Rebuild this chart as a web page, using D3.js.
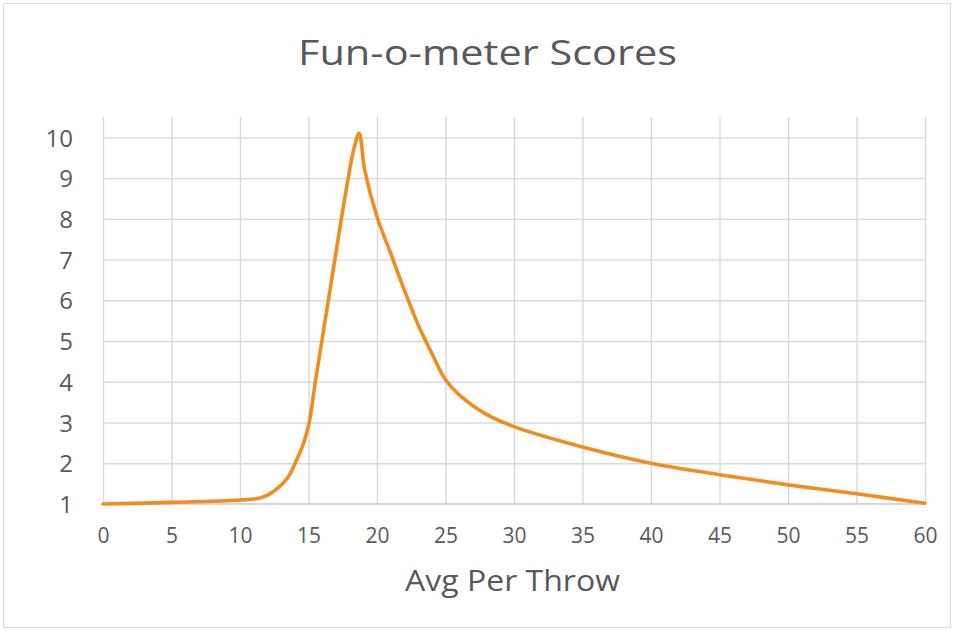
<!DOCTYPE html>
<html>
<head>
<meta charset="utf-8">
<script src="https://cdn.jsdelivr.net/npm/d3@7"></script>
<style>
  html, body { margin: 0; padding: 0; background: #fff; }
  svg { display: block; }
  text { font-family: "Open Sans", "Noto Sans", sans-serif; fill: #595959; }
</style>
</head>
<body>
<svg id="chart" width="954" height="631"></svg>
<script>
// Average per throw (x) and fun-o-meter score (y)
const avgPerThrow = [0, 5, 10, 11.5, 12.5, 13.5, 14, 14.6, 15.05, 15.5, 16.45, 17.4, 17.9, 18.3, 18.7, 19.1, 20, 21, 22, 23, 24, 25, 26, 28, 30, 35, 40, 45, 50, 55, 60];
const funScore   = [1.0, 1.04, 1.1, 1.15, 1.32, 1.65, 1.98, 2.45, 3.0, 4.0, 6.0, 8.0, 9.0, 9.7, 10.1, 9.2, 8.05, 7.15, 6.25, 5.4, 4.7, 4.05, 3.68, 3.2, 2.9, 2.4, 2.0, 1.72, 1.47, 1.25, 1.02];

const xTicks = [0, 5, 10, 15, 20, 25, 30, 35, 40, 45, 50, 55, 60];
const yTicks = [1, 2, 3, 4, 5, 6, 7, 8, 9, 10];

const chartTitle = "Fun-o-meter Scores";
const xAxisTitle = "Avg Per Throw";

const svg = d3.select("#chart");
const W = 954, H = 631;

// outer chart frame
svg.append("rect")
  .attr("x", 3.5).attr("y", 3.5)
  .attr("width", W - 7).attr("height", H - 7)
  .attr("fill", "#fff").attr("stroke", "#d9d9d9").attr("stroke-width", 1);

const plot = { left: 103, right: 925, top: 117, bottom: 504 };

const x = d3.scaleLinear().domain([0, 60]).range([plot.left, plot.right]);
const y = d3.scaleLinear().domain([1, 10.5]).range([plot.bottom, plot.top]);

// vertical gridlines
svg.append("g")
  .attr("transform", `translate(0,${plot.bottom})`)
  .call(d3.axisBottom(x).tickValues(xTicks).tickSize(-(plot.bottom - plot.top)).tickFormat(""))
  .call(g => g.select(".domain").remove())
  .call(g => g.selectAll("line").attr("stroke", "#d9d9d9").attr("stroke-width", 1.4));

// horizontal gridlines
svg.append("g")
  .attr("transform", `translate(${plot.left},0)`)
  .call(d3.axisLeft(y).tickValues(yTicks.filter(v => v > 1)).tickSize(-(plot.right - plot.left)).tickFormat(""))
  .call(g => g.select(".domain").remove())
  .call(g => g.selectAll("line").attr("stroke", "#d9d9d9").attr("stroke-width", 1.4));

// baseline axis
svg.append("line")
  .attr("x1", plot.left).attr("x2", plot.right)
  .attr("y1", y(1)).attr("y2", y(1))
  .attr("stroke", "#c8c8c8").attr("stroke-width", 1.6);

// x tick labels
svg.append("g")
  .attr("transform", `translate(0,${plot.bottom})`)
  .call(d3.axisBottom(x).tickValues(xTicks).tickSize(0).tickPadding(0).tickFormat(d3.format("d")))
  .call(g => g.select(".domain").remove())
  .call(g => g.selectAll("text")
    .attr("y", 39).attr("dy", null)
    .style("font-size", "21px").attr("fill", "#595959"));

// y tick labels
svg.append("g")
  .attr("transform", `translate(${plot.left},0)`)
  .call(d3.axisLeft(y).tickValues(yTicks).tickSize(0).tickPadding(0).tickFormat(d3.format("d")))
  .call(g => g.select(".domain").remove())
  .call(g => g.selectAll("text")
    .attr("x", -30).attr("dy", "0.36em")
    .style("font-size", "24px").attr("fill", "#595959"));

// score curve
const line = d3.line()
  .x((d, i) => x(avgPerThrow[i]))
  .y(d => y(d))
  .curve(d3.curveCatmullRom.alpha(0.5));

svg.append("path")
  .datum(funScore)
  .attr("d", line)
  .attr("fill", "none")
  .attr("stroke", "#F28C1E")
  .attr("stroke-width", 3.6)
  .attr("stroke-linejoin", "round")
  .attr("stroke-linecap", "round");

// titles
svg.append("text")
  .attr("x", 487.5).attr("y", 65)
  .attr("text-anchor", "middle")
  .attr("textLength", 379).attr("lengthAdjust", "spacingAndGlyphs")
  .style("font-size", "35px")
  .text(chartTitle);

svg.append("text")
  .attr("x", 512.5).attr("y", 591)
  .attr("text-anchor", "middle")
  .attr("textLength", 215).attr("lengthAdjust", "spacingAndGlyphs")
  .style("font-size", "29px")
  .text(xAxisTitle);
</script>
</body>
</html>
